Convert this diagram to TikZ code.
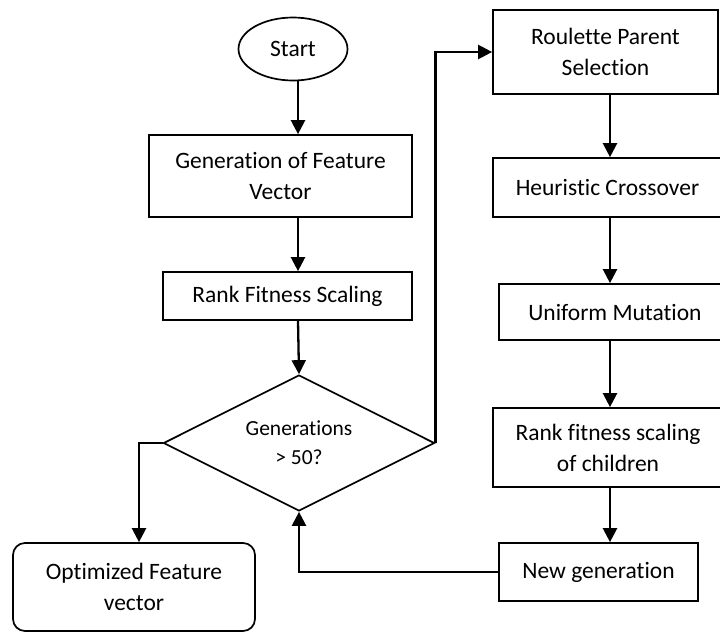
\documentclass[tikz,border=0pt]{standalone}
\usepackage{fontspec}
\setmainfont[Ligatures=NoCommon]{Carlito}
\usetikzlibrary{arrows.meta,shapes.geometric}

\begin{document}
\begin{tikzpicture}[x=1pt,y=-1pt,
  blk/.style={draw,line width=1.7pt,inner sep=0pt,align=center,font=\fontsize{23.5}{31}\selectfont},
  arw/.style={-{Triangle[length=14pt,width=14pt]},line width=2.3pt}]
\useasboundingbox (0,0) rectangle (720,632);
% main column
\node[blk,ellipse,minimum width=109,minimum height=63] (start) at (293,49) {Start};
\node[blk,minimum width=263,minimum height=82] (gen) at (280.5,176) {Generation of Feature\\Vector};
\node[blk,minimum width=249,minimum height=48] (rank) at (287.5,296) {Rank Fitness Scaling};
\node[blk,diamond,aspect=2,minimum width=271,minimum height=136,font=\fontsize{21.5}{29}\selectfont] (diam) at (299,443) {Generations\\> 50?};
\node[blk,rounded corners=12pt,minimum width=242,minimum height=88] (opt) at (134,587) {Optimized Feature\\vector};
% GA loop
\node[blk,minimum width=225,minimum height=84] (roul) at (605.5,52) {Roulette Parent\\Selection};
\node[blk,minimum width=229,minimum height=59] (heur) at (607.5,187.5) {Heuristic Crossover};
\node[blk,minimum width=232,minimum height=56] (unif) at (615,312) {Uniform Mutation};
\node[blk,minimum width=230,minimum height=79] (rkch) at (608,447.5) {Rank fitness scaling\\of children};
\node[blk,minimum width=199,minimum height=58] (newg) at (598.5,572) {New generation};
\coordinate (lx) at (298,0);
\coordinate (rx) at (610,0);
\draw[arw] (start.south -| lx) -- (gen.north -| lx);
\draw[arw] (gen.south -| lx) -- (rank.north -| lx);
\draw[arw] (rank.south -| lx) -- (diam.north);
\draw[arw] (diam.west) -| ([xshift=5pt]opt.north);
\draw[arw] (diam.east) |- (roul.west);
\draw[arw] (roul.south -| rx) -- (heur.north -| rx);
\draw[arw] (heur.south -| rx) -- (unif.north -| rx);
\draw[arw] (unif.south -| rx) -- (rkch.north -| rx);
\draw[arw] (rkch.south -| rx) -- (newg.north -| rx);
\draw[arw] (newg.west) -| (diam.south);
\end{tikzpicture}
\end{document}
